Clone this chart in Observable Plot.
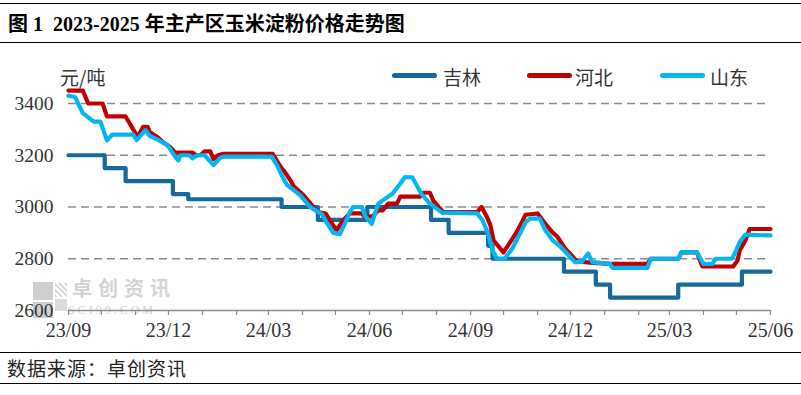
<!DOCTYPE html>
<html>
<head>
<meta charset="utf-8">
<script src="https://cdn.jsdelivr.net/npm/d3@7"></script>
<script src="https://cdn.jsdelivr.net/npm/@observablehq/plot@0.6"></script>
<style>
  html, body { margin: 0; padding: 0; background: #fff; }
  #wrap { position: relative; width: 801px; height: 395px; overflow: hidden; font-family: "Liberation Serif", "Noto Sans CJK SC", serif; }
  .abs { position: absolute; white-space: pre; }
  .hline { position: absolute; left: 0; width: 801px; height: 0; border-top: 1.5px solid #000; }
  #chart { position: absolute; left: 0; top: 45px; z-index: 2; }
  #chart svg { background: transparent; }
  .leg { position: absolute; height: 5px; border-radius: 3px; top: 73px; z-index: 3; }
  .legt { position: absolute; top: 64px; font: 19px "Noto Sans CJK SC", sans-serif; color: #333; line-height: 26px; z-index: 3; }
</style>
</head>
<body>
<div id="wrap">
  <div class="hline" style="top:3px"></div>
  <div class="abs" style="left:8px; top:11px; font-size:20px; font-weight:bold; line-height:26px; color:#000;">图 1  2023-2025 年主产区玉米淀粉价格走势图</div>
  <div class="hline" style="top:42px"></div>

  <!-- watermark -->
  <div class="abs" style="left:33px; top:282px; width:20px; height:18px; background:#cfcfcf; z-index:1"></div>
  <div class="abs" style="left:55px; top:283px; width:12px; height:14px; background:repeating-linear-gradient(45deg,#d8d8d8 0 2px,#fff 2px 4px); z-index:1"></div>
  <div class="abs" style="left:33px; top:302px; width:20px; height:16px; background:#cfcfcf; z-index:1"></div>
  <div class="abs" style="left:55px; top:299px; width:12px; height:12px; background:#dcdcdc; z-index:1"></div>
  <div class="abs" style="left:72px; top:278px; font:bold 20px 'Noto Sans CJK SC', sans-serif; letter-spacing:6px; color:#d3d3d3; line-height:20px; z-index:1">卓创资讯</div>
  <div class="abs" style="left:68px; top:304px; font:12px 'Liberation Serif', serif; letter-spacing:3px; color:#d3d3d3; line-height:12px; z-index:1">SCI99.COM</div>

  <div id="chart"></div>

  <div class="abs" style="left:60px; top:64px; font:19px 'Noto Sans CJK SC', sans-serif; color:#333; line-height:26px; z-index:3">元/吨</div>

  <div class="leg" style="left:392px; width:45px; background:#16699A"></div>
  <div class="legt" style="left:443px">吉林</div>
  <div class="leg" style="left:527px; width:45px; background:#C00000"></div>
  <div class="legt" style="left:575px">河北</div>
  <div class="leg" style="left:660px; width:45px; background:#00B7F1"></div>
  <div class="legt" style="left:710px">山东</div>

  <div class="hline" style="top:352px"></div>
  <div class="abs" style="left:7px; top:355px; font:19px 'Noto Sans CJK SC', sans-serif; letter-spacing:1px; color:#222; line-height:26px;">数据来源：卓创资讯</div>
  <div class="hline" style="top:383px"></div>
</div>
<script>
// ---- data ----
const seriesNames = ["吉林", "河北", "山东"];
const seriesColors = ["#16699A", "#C00000", "#00B7F1"];
const yTickValues = [2600, 2800, 3000, 3200, 3400];
const gridValues = [2800, 3000, 3200, 3400];
const xTickLabels = ["2023-09-01","2023-12-01","2024-03-01","2024-06-01","2024-09-01","2024-12-01","2025-03-01","2025-06-01"];
const xDomain = ["2023-09-01", "2025-06-01"];

const jilin = [
  ["2023-09-01",3200],["2023-10-04",3150],["2023-10-23",3100],["2023-12-05",3050],["2023-12-19",3030],
  ["2024-03-13",3000],["2024-04-15",2950],["2024-05-30",3000],["2024-07-27",2950],["2024-08-12",2900],
  ["2024-09-17",2850],["2024-09-21",2800],["2024-11-25",2750],["2024-12-24",2700],["2025-01-06",2650],
  ["2025-03-09",2700],["2025-05-06",2750],["2025-06-01",2750]
];

const hebei = [
  ["2023-09-01",3450],["2023-09-14",3450],["2023-09-19",3400],["2023-10-02",3400],["2023-10-06",3350],
  ["2023-10-23",3350],["2023-11-03",3270],["2023-11-08",3310],["2023-11-12",3310],["2023-11-14",3290],
  ["2023-11-21",3270],["2023-11-26",3250],["2023-12-03",3230],["2023-12-07",3210],["2023-12-23",3210],
  ["2023-12-26",3200],["2023-12-30",3200],["2024-01-03",3215],["2024-01-08",3215],["2024-01-11",3185],
  ["2024-01-15",3200],["2024-01-19",3205],["2024-03-05",3205],["2024-03-12",3155],["2024-03-16",3135],
  ["2024-03-21",3103],["2024-03-24",3080],["2024-04-02",3045],["2024-04-11",3000],["2024-04-15",2980],
  ["2024-04-22",2975],["2024-04-26",2948],["2024-05-02",2910],["2024-05-08",2948],["2024-05-14",2975],
  ["2024-05-25",2975],["2024-05-28",2960],["2024-06-04",2965],["2024-06-09",2987],["2024-06-13",2987],
  ["2024-06-18",3013],["2024-06-26",3013],["2024-06-29",3040],["2024-07-17",3040],["2024-07-20",3055],
  ["2024-07-26",3055],["2024-07-29",3025],["2024-08-07",2980],["2024-09-07",2980],["2024-09-11",3000],
  ["2024-09-16",2960],["2024-09-19",2930],["2024-09-22",2870],["2024-10-01",2825],["2024-10-08",2870],
  ["2024-10-12",2897],["2024-10-17",2935],["2024-10-21",2970],["2024-11-01",2975],["2024-11-08",2935],
  ["2024-11-15",2900],["2024-11-19",2885],["2024-11-26",2840],["2024-12-07",2790],["2024-12-19",2785],
  ["2025-01-06",2780],["2025-02-09",2780],["2025-02-12",2800],["2025-03-09",2800],["2025-03-12",2825],
  ["2025-03-26",2825],["2025-03-31",2770],["2025-04-28",2770],["2025-05-02",2793],["2025-05-04",2832],
  ["2025-05-09",2870],["2025-05-13",2915],["2025-06-01",2915]
];

const shandong = [
  ["2023-09-01",3430],["2023-09-07",3425],["2023-09-14",3363],["2023-09-24",3330],["2023-09-30",3330],
  ["2023-10-06",3258],["2023-10-11",3280],["2023-10-30",3280],["2023-11-02",3258],["2023-11-10",3297],
  ["2023-11-14",3275],["2023-11-21",3260],["2023-11-30",3240],["2023-12-07",3195],["2023-12-10",3180],
  ["2023-12-12",3200],["2023-12-20",3200],["2023-12-23",3188],["2023-12-27",3200],["2024-01-03",3200],
  ["2024-01-11",3162],["2024-01-17",3190],["2024-01-21",3195],["2024-03-04",3195],["2024-03-09",3160],
  ["2024-03-13",3123],["2024-03-18",3085],["2024-03-24",3065],["2024-03-30",3045],["2024-04-03",3025],
  ["2024-04-08",3000],["2024-04-13",2987],["2024-04-19",2971],["2024-04-23",2940],["2024-04-29",2900],
  ["2024-05-05",2895],["2024-05-10",2940],["2024-05-14",2980],["2024-05-17",3000],["2024-05-25",3000],
  ["2024-05-28",2965],["2024-06-03",2935],["2024-06-09",3013],["2024-06-22",3052],["2024-06-29",3090],
  ["2024-07-03",3115],["2024-07-10",3115],["2024-07-18",3052],["2024-07-26",3013],["2024-08-06",2978],
  ["2024-09-07",2975],["2024-09-12",2948],["2024-09-17",2897],["2024-09-21",2832],["2024-09-25",2800],
  ["2024-10-02",2800],["2024-10-09",2840],["2024-10-16",2897],["2024-10-21",2940],["2024-10-25",2955],
  ["2024-11-03",2955],["2024-11-08",2910],["2024-11-15",2870],["2024-11-21",2850],["2024-12-01",2805],
  ["2024-12-05",2787],["2024-12-11",2787],["2024-12-17",2820],["2024-12-21",2787],["2025-01-06",2780],
  ["2025-01-08",2765],["2025-02-09",2765],["2025-02-12",2800],["2025-03-09",2800],["2025-03-12",2825],
  ["2025-03-26",2825],["2025-04-01",2780],["2025-04-09",2780],["2025-04-12",2800],["2025-04-27",2800],
  ["2025-04-30",2825],["2025-05-04",2865],["2025-05-09",2893],["2025-06-01",2890]
];

// ---- build ----
const parse = d3.utcParse("%Y-%m-%d");
const toRows = (arr, name) => arr.map(([d, v]) => ({date: parse(d), value: v, name}));
const rowsJ = toRows(jilin, seriesNames[0]);
const rowsH = toRows(hebei, seriesNames[1]);
const rowsS = toRows(shandong, seriesNames[2]);
const domain = xDomain.map(parse);
const labelTicks = xTickLabels.map(parse);
const monthTicks = d3.utcMonth.range(domain[0], d3.utcDay.offset(domain[1], 1));

const plot = Plot.plot({
  width: 801,
  height: 305,
  marginLeft: 68,
  marginRight: 31,
  marginTop: 58,
  marginBottom: 40,
  style: {fontFamily: "'Liberation Serif', serif", fontSize: "19.5px", color: "#333", background: "transparent", overflow: "visible"},
  x: {type: "utc", domain, label: null},
  y: {domain: [2600, 3400], label: null},
  marks: [
    Plot.ruleY(gridValues, {stroke: "#8a8a8a", strokeWidth: 1.5, strokeDasharray: "8,5", strokeOpacity: 1}),
    Plot.axisX(monthTicks, {tickSize: 5, tickFormat: () => "", label: null, stroke: "#8a8a8a", strokeWidth: 1.2}),
    Plot.axisX(labelTicks, {tickSize: 0, tickPadding: 12, label: null, tickFormat: d3.utcFormat("%y/%m"), fill: "#333", fontSize: 20, fontFamily: "'Liberation Serif', serif"}),
    Plot.axisY(yTickValues, {tickSize: 0, tickPadding: 15, label: null, tickFormat: d3.format("d"), fill: "#333", fontSize: 19.5, fontFamily: "'Liberation Serif', serif"}),
    Plot.ruleY([2600], {stroke: "#8a8a8a", strokeWidth: 1.5}),
    Plot.line(rowsJ, {x: "date", y: "value", stroke: seriesColors[0], strokeWidth: 4.2, curve: "step-after", strokeLinejoin: "round", strokeLinecap: "round"}),
    Plot.line(rowsH, {x: "date", y: "value", stroke: seriesColors[1], strokeWidth: 4.2, strokeLinejoin: "round", strokeLinecap: "round"}),
    Plot.line(rowsS, {x: "date", y: "value", stroke: seriesColors[2], strokeWidth: 4.2, strokeLinejoin: "round", strokeLinecap: "round"})
  ]
});
document.getElementById("chart").appendChild(plot);
</script>
</body>
</html>
